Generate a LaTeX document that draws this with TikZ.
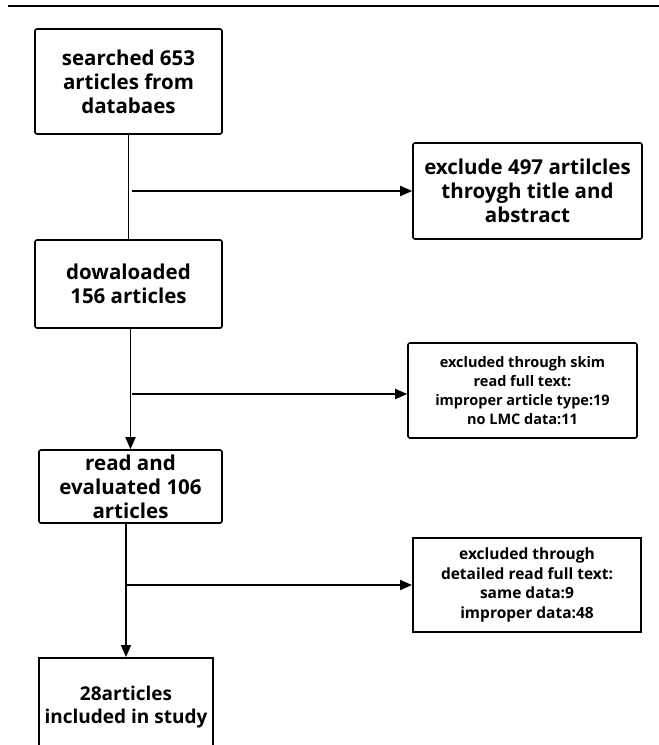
\documentclass[tikz,border=0pt]{standalone}
\usepackage{fontspec}
\setmainfont{Open Sans}
\usetikzlibrary{arrows.meta}

\tikzset{
    stagebox/.style={draw, line width=1.6pt, rounded corners=2pt, align=center,
        inner sep=0pt, font=\fontsize{20.5}{24}\selectfont\bfseries},
    notebox/.style={draw, line width=1.6pt, rounded corners=2pt, align=center,
        inner sep=0pt, font=\fontsize{14.5}{19}\selectfont\bfseries},
    flowline/.style={line width=1.8pt},
    flowarrow/.style={line width=1.8pt, -{Triangle[length=12pt,width=10pt]}}
}

\begin{document}
\begin{tikzpicture}[x=1pt,y=-1pt]
    \clip (0,0) rectangle (659,745);

    % Top rule
    \draw[line width=2.5pt] (8,6) -- (659,6);

    % Main stages
    \node[stagebox, minimum width=187pt, minimum height=105pt] (searched) at (128.5,81.5) {searched 653\\articles from\\databaes};
    \node[stagebox, minimum width=187pt, minimum height=88pt] (downloaded) at (128.5,284) {dowaloaded\\156 articles};
    \node[stagebox, minimum width=183pt, minimum height=73pt] (evaluated) at (130.5,486.5) {read and\\evaluated 106\\articles};
    \node[stagebox, font=\fontsize{19}{23}\selectfont\bfseries, rounded corners=0pt, line width=2pt,
        minimum width=174pt, anchor=north, inner ysep=28pt, text depth=60pt] (included) at (126,657) {28articles\\included in study};

    % Exclusions
    \node[stagebox, minimum width=229pt, minimum height=96pt] (titleout) at (527.5,191) {exclude 497 artilcles\\throygh title and\\abstract};
    \node[notebox, minimum width=229pt, minimum height=95pt] (skimout) at (522.5,390.5) {excluded through skim\\read full text:\\improper article type:19\\no LMC data:11};
    \node[notebox, font=\fontsize{15.5}{19.5}\selectfont\bfseries, rounded corners=0pt, line width=2pt,
        minimum width=228pt, minimum height=94pt] (detailout) at (527,585) {excluded through\\detailed read full text:\\same data:9\\improper data:48};

    % Branch points
    \coordinate (b1) at (132,191);
    \coordinate (b2) at (132,394);
    \coordinate (b3) at (126,585);

    % Connectors
    \draw[flowline] (searched.south) -- (downloaded.north);
    \draw[flowarrow] (b1) -- (titleout.west);
    \draw[flowarrow] (evaluated.north |- downloaded.south) -- (evaluated.north);
    \draw[flowarrow] (b2) -- (b2 -| skimout.west);
    \draw[flowarrow] (included.north |- evaluated.south) -- (included.north);
    \draw[flowarrow] (b3) -- (detailout.west);
\end{tikzpicture}
\end{document}
